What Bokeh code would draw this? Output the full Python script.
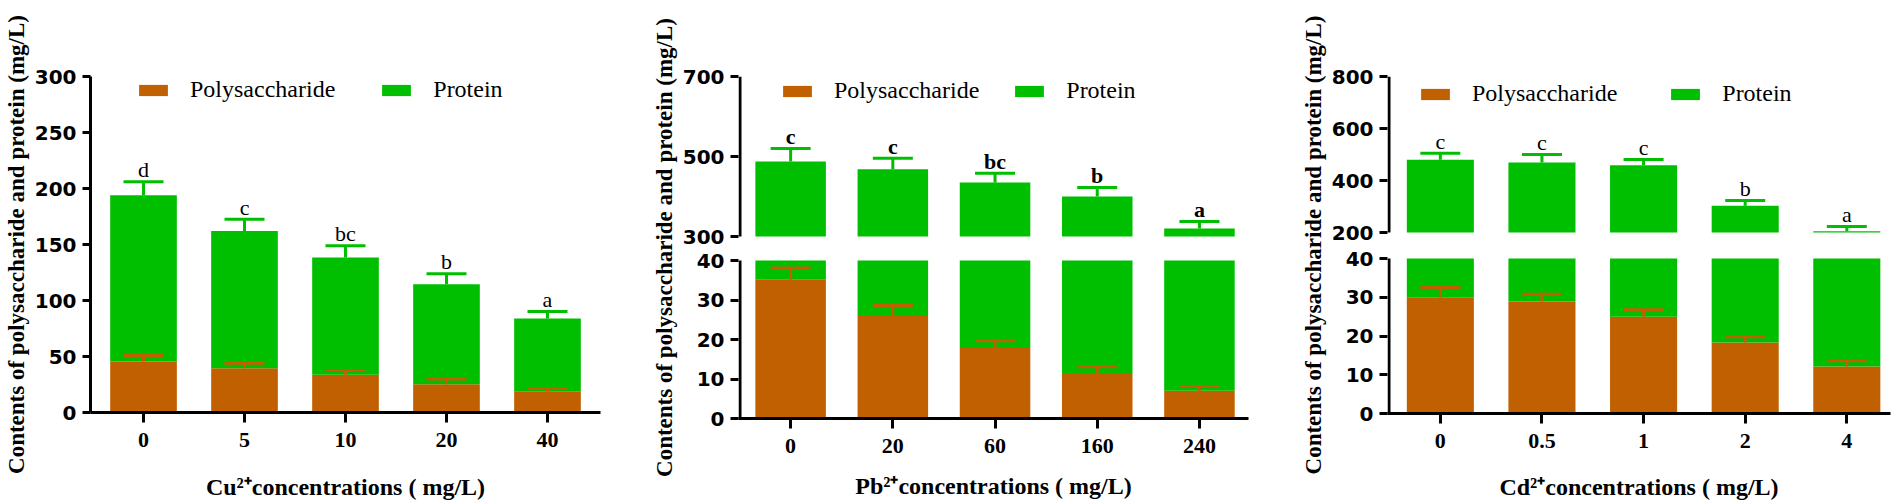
from bokeh.plotting import figure
from bokeh.models import (Range1d, FixedTicker, Whisker, TeeHead, Legend, LegendItem,
                          ColumnDataSource, CustomJSTickFormatter)
from bokeh.layouts import row
from bokeh.embed import file_html
from bokeh.resources import INLINE
from bokeh.core.properties import value

ORANGE = "#C06000"
GREEN = "#00BF00"

# ---------------- data ----------------
cu_conc = ["0", "5", "10", "20", "40"]
cu_poly = [45.5, 39.6, 33.6, 25.3, 18.5]
cu_poly_err = [5.5, 4.4, 3.9, 4.5, 2.9]
cu_protein = [148.5, 122.4, 104.8, 89.3, 65.5]
cu_protein_err = [12.0, 10.6, 10.4, 9.2, 6.2]
cu_letters = ["d", "c", "bc", "b", "a"]
cu_yticks = [0, 50, 100, 150, 200, 250, 300]

pb_conc = ["0", "20", "60", "160", "240"]
pb_poly = [35.1, 26.2, 18.1, 11.5, 7.0]
pb_poly_err = [3.0, 2.4, 1.6, 1.6, 1.1]
pb_protein = [452.4, 441.8, 416.9, 388.5, 313.0]
pb_protein_err = [32.5, 27.8, 23.0, 22.5, 17.5]
pb_letters = ["c", "c", "bc", "b", "a"]
pb_lower_ticks = [0, 10, 20, 30, 40]
pb_upper_ticks = [300, 500, 700]

cd_conc = ["0", "0.5", "1", "2", "4"]
cd_poly = [29.9, 28.9, 25.0, 18.3, 12.1]
cd_poly_err = [2.6, 1.9, 1.8, 1.5, 1.5]
cd_protein = [449.7, 440.1, 434.0, 284.3, 192.9]
cd_protein_err = [25.4, 31.0, 22.0, 20.4, 18.0]
cd_letters = ["c", "c", "c", "b", "a"]
cd_lower_ticks = [0, 10, 20, 30, 40]
cd_upper_ticks = [200, 400, 600, 800]

Y_TITLE = "Contents of polysaccharide and protein (mg/L)"

# ---------------- layout per panel ----------------
# leg = (x from frame left, y of legend bottom from frame bottom)
cfg_cu = dict(fw=510, fh=336, top=76, left=90, right=48, x0=-0.525, x1=4.525, bw=0.66,
              leg=(45, 309), spacing=43, xstand=24, bold=False)
cfg_pb = dict(fw=510, fh=342, top=75, left=88, right=49, x0=-0.51, x1=4.48, bw=0.69,
              leg=(41, 314), spacing=32, xstand=17, bold=True, lower_px=158, upper_px=160)
cfg_cd = dict(fw=503, fh=337, top=75, left=88, right=10, x0=-0.52, x1=4.43, bw=0.66,
              leg=(30, 306), spacing=50, xstand=23, bold=False, lower_px=155, upper_px=156)


def make_panel(conc, poly, poly_err, protein, protein_err, letters, metal, cfg,
               yticks=None, lower_ticks=None, upper_ticks=None):
    n = len(conc)
    xs = list(range(n))
    total = [a + b for a, b in zip(poly, protein)]
    broken = upper_ticks is not None
    if broken:
        lmax = lower_ticks[-1]
        umin, umax = upper_ticks[0], upper_ticks[-1]
        ltop = lmax * cfg["fh"] / cfg["lower_px"]
        ubot = umax - (umax - umin) * cfg["fh"] / cfg["upper_px"]
        y_range = Range1d(0, ltop)
    else:
        y_range = Range1d(yticks[0], yticks[-1])

    p = figure(frame_width=cfg["fw"], frame_height=cfg["fh"],
               x_range=Range1d(cfg["x0"], cfg["x1"]), y_range=y_range,
               output_backend="svg", toolbar_location=None,
               min_border_left=cfg["left"], min_border_right=cfg["right"],
               min_border_top=cfg["top"], min_border_bottom=0)
    up = "default"
    if broken:
        p.extra_y_ranges = {"upper": Range1d(ubot, umax)}
        up = "upper"

    src = ColumnDataSource(dict(
        x=xs, poly=poly, poly_hi=[a + b for a, b in zip(poly, poly_err)],
        total=total, total_hi=[a + b for a, b in zip(total, protein_err)],
        letters=letters))

    r_poly = p.vbar(x="x", bottom=0, top="poly", width=cfg["bw"], fill_color=ORANGE,
                    line_color=None, source=src)
    if broken:
        p.vbar(x="x", bottom="poly", top=lmax, width=cfg["bw"], fill_color=GREEN,
               line_color=None, source=src)
        r_prot = p.vbar(x="x", bottom=umin, top="total", width=cfg["bw"], fill_color=GREEN,
                        line_color=None, source=src, y_range_name="upper")
    else:
        r_prot = p.vbar(x="x", bottom="poly", top="total", width=cfg["bw"], fill_color=GREEN,
                        line_color=None, source=src)

    p.add_layout(Whisker(source=src, base="x", lower="poly", upper="poly_hi",
                         line_color=ORANGE, line_width=3, lower_head=None, level="overlay",
                         upper_head=TeeHead(size=40, line_color=ORANGE, line_width=3)))
    p.add_layout(Whisker(source=src, base="x", lower="total", upper="total_hi",
                         line_color=GREEN, line_width=3, lower_head=None, level="overlay",
                         upper_head=TeeHead(size=40, line_color=GREEN, line_width=3),
                         y_range_name=up))

    p.text(x="x", y="total_hi", text="letters", source=src, text_align="center",
           text_baseline="alphabetic", y_offset=-12, text_color="black",
           text_font=value("Liberation Serif"), text_font_size="22px",
           text_font_style="bold" if cfg["bold"] else "normal", y_range_name=up)

    # axes
    p.xgrid.visible = False
    p.ygrid.visible = False
    p.outline_line_color = None
    p.background_fill_color = "white"
    p.border_fill_color = "white"

    xa = p.xaxis[0]
    xa.ticker = FixedTicker(ticks=xs)
    xa.major_label_overrides = {i: c for i, c in enumerate(conc)}
    xa.axis_label = f"{metal}\u00b2\u207aconcentrations ( mg/L)"
    xa.axis_line_width = 3
    xa.major_tick_line_width = 3
    xa.major_tick_out = 10
    xa.major_tick_in = 0
    xa.minor_tick_line_color = None
    xa.major_label_standoff = 10
    xa.major_label_text_font = "Liberation Serif"
    xa.major_label_text_font_style = "bold"
    xa.major_label_text_font_size = "22px"
    xa.major_label_text_color = "black"
    xa.axis_label_text_font = "Liberation Serif"
    xa.axis_label_text_font_style = "bold"
    xa.axis_label_text_font_size = "24px"
    xa.axis_label_text_color = "black"
    xa.axis_label_standoff = cfg["xstand"]

    ya = p.yaxis[0]
    ya.axis_label = Y_TITLE
    ya.axis_line_width = 3
    ya.major_tick_line_width = 3
    ya.major_tick_out = 8
    ya.major_tick_in = 0
    ya.minor_tick_line_color = None
    ya.major_label_standoff = 6
    ya.major_label_text_font = "DejaVu Sans"
    ya.major_label_text_font_style = "bold"
    ya.major_label_text_font_size = "20px"
    ya.major_label_text_color = "black"
    ya.axis_label_text_font = "Liberation Serif"
    ya.axis_label_text_font_style = "bold"
    ya.axis_label_text_font_size = "23px"
    ya.axis_label_text_color = "black"
    ya.axis_label_standoff = 3

    if broken:
        upper_pos = [(v - ubot) / (umax - ubot) * ltop for v in upper_ticks]
        ya.ticker = FixedTicker(ticks=list(lower_ticks) + upper_pos)
        ya.formatter = CustomJSTickFormatter(
            args=dict(lmax=lmax, ltop=ltop, ubot=ubot, umax=umax),
            code="""
            if (tick <= lmax + 1e-6) { return Math.round(tick).toString(); }
            return Math.round(ubot + tick / ltop * (umax - ubot)).toString();
            """)
        ya.axis_line_color = None
        xline = cfg["x0"] + 1.5 * (cfg["x1"] - cfg["x0"]) / cfg["fw"]
        p.segment(x0=[xline], y0=[0], x1=[xline], y1=[lmax], line_width=3,
                  line_color="black")
        p.segment(x0=[xline], y0=[umin], x1=[xline], y1=[umax], line_width=3,
                  line_color="black", y_range_name="upper")
    else:
        ya.ticker = FixedTicker(ticks=yticks)

    legend = Legend(items=[LegendItem(label="Polysaccharide", renderers=[r_poly]),
                           LegendItem(label="Protein", renderers=[r_prot])],
                    orientation="horizontal", location=cfg["leg"],
                    glyph_width=36, glyph_height=14, label_standoff=19,
                    spacing=cfg["spacing"], padding=0, margin=0,
                    border_line_color=None, background_fill_alpha=0,
                    label_text_font="Liberation Serif", label_text_font_size="24px",
                    label_text_color="black")
    p.add_layout(legend)
    return p


p1 = make_panel(cu_conc, cu_poly, cu_poly_err, cu_protein, cu_protein_err, cu_letters,
                "Cu", cfg_cu, yticks=cu_yticks)
p2 = make_panel(pb_conc, pb_poly, pb_poly_err, pb_protein, pb_protein_err, pb_letters,
                "Pb", cfg_pb, lower_ticks=pb_lower_ticks, upper_ticks=pb_upper_ticks)
p3 = make_panel(cd_conc, cd_poly, cd_poly_err, cd_protein, cd_protein_err, cd_letters,
                "Cd", cfg_cd, lower_ticks=cd_lower_ticks, upper_ticks=cd_upper_ticks)

layout = row(p1, p2, p3)
open("out.html", "w").write(file_html(layout, INLINE))
